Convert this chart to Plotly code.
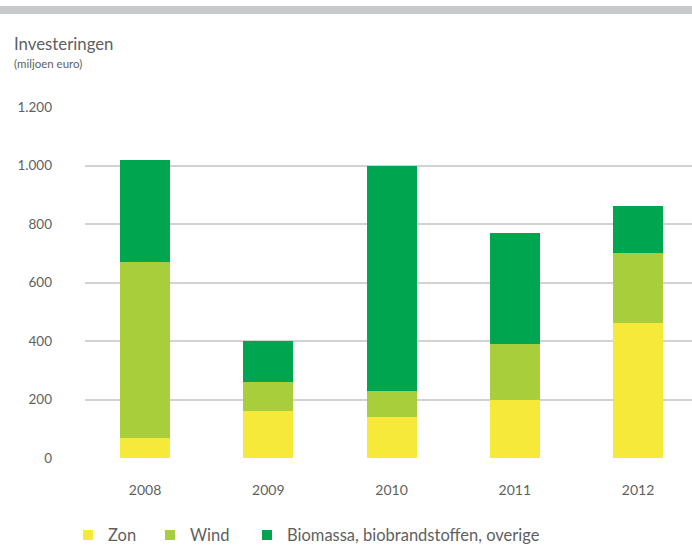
import plotly.graph_objects as go

# Investments in renewable energy, million euro, per year
years = ["2008", "2009", "2010", "2011", "2012"]
zon = [70, 160, 140, 200, 460]
wind = [600, 100, 90, 190, 240]
biomassa = [350, 140, 770, 380, 160]

y_ticks = [0, 200, 400, 600, 800, 1000, 1200]
y_tick_labels = ["0", "200", "400", "600", "800", "1.000", "1.200"]

series_names = ["Zon", "Wind", "Biomassa, biobrandstoffen, overige"]
series_values = [zon, wind, biomassa]
series_colors = ["#f6e93a", "#a8ce3b", "#00a54f"]
# left edge (px) of each legend swatch
legend_x = [83, 165, 262]

text_color = "#5f5f5f"
font_family = "Lato, 'Open Sans', sans-serif"

W, H = 692, 546
L, R, T, B = 85, 0, 107, 88
PW, PH = W - L - R, H - T - B


def px_x(p):
    return (p - L) / PW


def px_y(p):
    return (H - B - p) / PH


fig = go.Figure()
for name, values, color in zip(series_names, series_values, series_colors):
    fig.add_trace(go.Bar(
        x=years, y=values, name=name,
        marker=dict(color=color, line=dict(width=0)),
        width=0.406,
    ))

shapes = [
    # grey header band
    dict(type="rect", xref="paper", yref="paper",
         x0=px_x(0), x1=1, y0=px_y(14), y1=px_y(6),
         fillcolor="#c8c9ca", line=dict(width=0), layer="above"),
]
annotations = [
    dict(text="Investeringen", xref="paper", yref="paper",
         x=px_x(12), y=px_y(44), xanchor="left", yanchor="middle",
         showarrow=False, font=dict(size=16.8, color=text_color)),
    dict(text="(miljoen euro)", xref="paper", yref="paper",
         x=px_x(12), y=px_y(63), xanchor="left", yanchor="middle",
         showarrow=False, font=dict(size=11.5, color=text_color)),
]

# legend: swatch + label per series
for name, color, lx in zip(series_names, series_colors, legend_x):
    shapes.append(dict(type="rect", xref="paper", yref="paper",
                       x0=px_x(lx), x1=px_x(lx + 10),
                       y0=px_y(540), y1=px_y(530),
                       fillcolor=color, line=dict(width=0)))
    annotations.append(dict(text=name, xref="paper", yref="paper",
                            x=px_x(lx + 23), y=px_y(535),
                            xanchor="left", yanchor="middle",
                            showarrow=False,
                            font=dict(size=16.5, color=text_color)))

fig.update_layout(
    barmode="stack",
    width=W, height=H,
    margin=dict(l=L, r=R, t=T, b=B),
    paper_bgcolor="white",
    plot_bgcolor="white",
    font=dict(family=font_family, color=text_color, size=14),
    showlegend=False,
    xaxis=dict(
        type="category",
        range=[-0.487, 4.438],
        showgrid=False, zeroline=False, showline=False,
        ticks="", ticklabelstandoff=22,
        tickfont=dict(size=14, color=text_color),
    ),
    yaxis=dict(
        range=[0, 1200],
        tickvals=y_ticks, ticktext=y_tick_labels,
        showgrid=True, gridcolor="#d2d2d2", gridwidth=1.5,
        zeroline=False, showline=False,
        ticks="", ticklabelstandoff=32,
        tickfont=dict(size=13.5, color=text_color),
    ),
    shapes=shapes,
    annotations=annotations,
)

fig.write_html("out.html")
